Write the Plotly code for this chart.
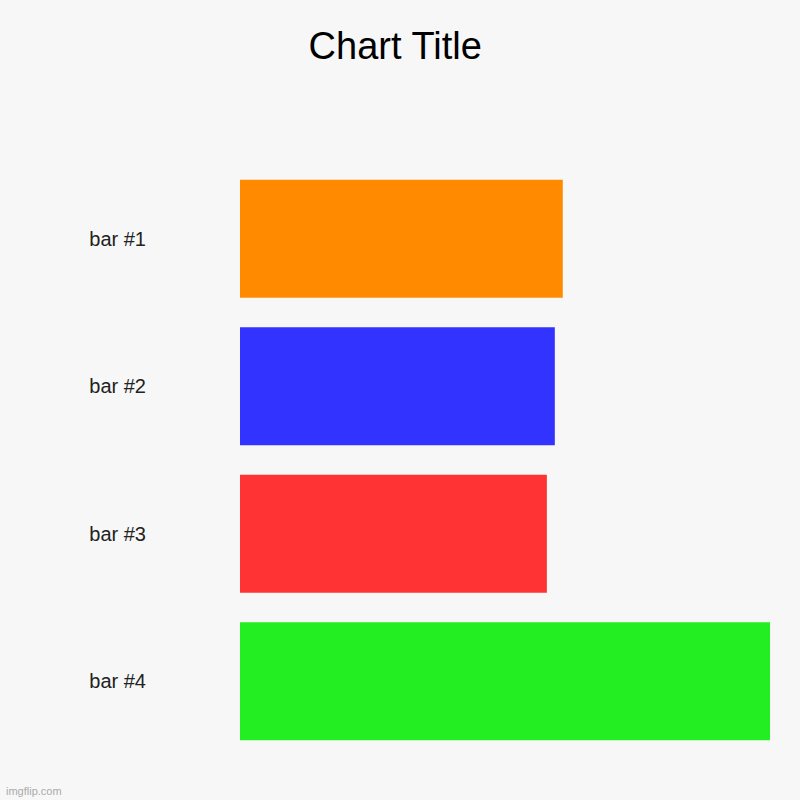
import plotly.graph_objects as go

categories = ["bar #1", "bar #2", "bar #3", "bar #4"]
values = [60.9, 59.4, 57.9, 100]
colors = ["#FF8A00", "#3333FF", "#FF3333", "#22EE22"]

fig = go.Figure(go.Bar(
    x=values,
    y=categories,
    orientation="h",
    marker=dict(color=colors, line=dict(width=0)),
    hoverinfo="skip",
))

fig.update_layout(
    width=800,
    height=800,
    paper_bgcolor="#F7F7F7",
    plot_bgcolor="#F7F7F7",
    margin=dict(l=240, r=30, t=165, b=45, pad=0),
    bargap=0.2,
    showlegend=False,
    title=dict(
        text="Chart Title",
        font=dict(family="Liberation Sans, Arial, sans-serif", size=38, color="#000000"),
        x=0.494, xref="container", xanchor="center",
        y=0.9425, yref="container", yanchor="middle",
    ),
    xaxis=dict(
        range=[0, 100],
        visible=False,
        showgrid=False,
        zeroline=False,
        fixedrange=True,
    ),
    yaxis=dict(
        autorange="reversed",
        showgrid=False,
        zeroline=False,
        showline=False,
        ticks="",
        ticklabelstandoff=93,
        tickfont=dict(family="Liberation Sans, Arial, sans-serif", size=20, color="#222222"),
        fixedrange=True,
    ),
    annotations=[
        dict(
            text="imgflip.com",
            xref="paper", yref="paper",
            x=-236/530, y=-36/590,
            xanchor="left", yanchor="middle",
            showarrow=False,
            font=dict(family="Liberation Sans, Arial, sans-serif", size=11, color="#AAAAAA"),
        )
    ],
)

fig.write_html(
    "out.html",
    config={"displayModeBar": False},
    post_script="document.body.style.margin='0px';document.body.style.background='#F7F7F7';",
)
